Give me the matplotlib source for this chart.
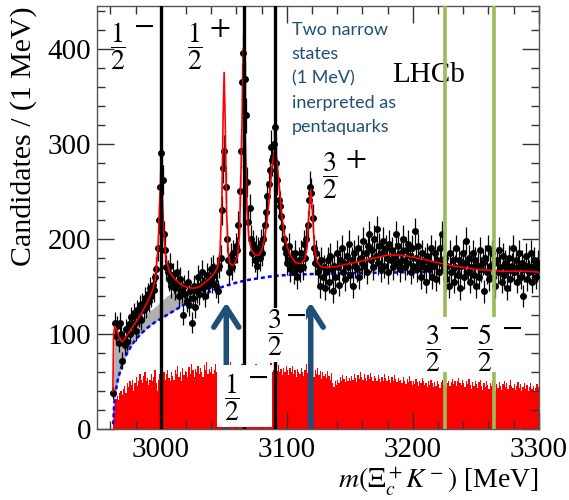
import matplotlib
matplotlib.use('Agg')
import matplotlib.pyplot as plt
from matplotlib.ticker import MultipleLocator
from matplotlib.patches import Rectangle
import numpy as np

plt.rcParams['font.family'] = ['Liberation Serif', 'DejaVu Serif']
plt.rcParams['mathtext.fontset'] = 'stix'

# binning: 1 MeV bins from threshold
m_lo, m_hi = 2962, 3300
edges = np.arange(m_lo, m_hi + 1)
centers = edges[:-1] + 0.5

# candidates per bin
counts = [
    38, 112, 98, 108, 90, 112, 100, 72,
    95, 88, 105, 92, 110, 100, 118, 108, 122, 112,
    103, 125, 118, 130, 115, 132, 125, 138, 128, 142,
    135, 148, 140, 152, 146, 160, 168, 190, 220, 255,
    290, 262, 205, 188, 170, 165, 158, 172, 150, 162,
    155, 148, 165, 152, 140, 158, 145, 120, 150, 142,
    135, 155, 130, 145, 112, 138, 150, 128, 145, 160,
    142, 150, 165, 148, 155, 140, 162, 150, 158, 168,
    155, 170, 162, 150, 168, 145, 172, 180, 230, 275,
    292, 255, 200, 178, 165, 182, 170, 185, 178, 192,
    188, 215, 250, 292, 365, 396, 368, 330, 260, 218,
    232, 200, 185, 195, 178, 190, 172, 188, 180, 196,
    185, 200, 215, 228, 245, 258, 272, 297, 283, 300,
    318, 280, 262, 241, 235, 224, 212, 200, 190, 185,
    175, 192, 168, 180, 175, 165, 185, 172, 160, 178,
    168, 185, 170, 195, 180, 200, 215, 241, 255, 248,
    222, 190, 175, 185, 165, 172, 150, 178, 160, 170,
    148, 165, 178, 155, 182, 168, 145, 172, 160, 185,
    170, 152, 178, 190, 165, 175, 158, 182, 170, 195,
    162, 178, 150, 185, 172, 168, 190, 160, 180, 175,
    198, 172, 185, 165, 192, 205, 178, 188, 170, 200,
    182, 210, 175, 192, 168, 185, 198, 172, 190, 180,
    165, 195, 178, 188, 170, 182, 205, 175, 192, 168,
    185, 178, 200, 170, 188, 175, 195, 182, 165, 190,
    172, 208, 180, 168, 192, 175, 160, 185, 170, 178,
    155, 182, 168, 175, 190, 160, 172, 185, 158, 178,
    165, 190, 175, 205, 168, 180, 158, 172, 150, 185,
    165, 178, 155, 170, 190, 162, 178, 148, 172, 185,
    160, 175, 198, 165, 180, 155, 170, 185, 162, 178,
    150, 172, 160, 188, 168, 175, 145, 180, 165, 190,
    158, 172, 185, 160, 175, 150, 178, 165, 188, 170,
    155, 182, 162, 175, 148, 168, 180, 158, 172, 190,
    165, 178, 155, 170, 185, 160, 175, 140, 168, 182,
    158, 172, 165, 185, 155, 170, 178, 160, 168, 175,
]

# red histogram (sideband), same binning
sideband = [
    20, 28, 32, 35, 30, 38, 40, 36,
    42, 45, 38, 48, 44, 50, 46, 52, 40, 48,
    55, 45, 50, 58, 52, 48, 56, 60, 50, 54,
    46, 52, 58, 50, 55, 62, 48, 40, 52, 58,
    50, 55, 60, 52, 58, 62, 54, 50, 60, 56,
    52, 62, 58, 66, 55, 60, 50, 64, 57, 61,
    60, 55, 65, 58, 68, 62, 55, 63, 60, 66,
    58, 64, 60, 55, 67, 62, 70, 58, 63, 60,
    65, 58, 62, 68, 60, 64, 57, 66, 62, 59,
    63, 60, 67, 58, 64, 70, 61, 57, 65, 62,
    58, 66, 62, 60, 68, 56, 63, 65, 59, 62,
    66, 60, 57, 64, 61, 68, 58, 63, 60, 65,
    62, 58, 66, 60, 64, 57, 63, 69, 60, 62,
    58, 65, 61, 67, 60, 63, 57, 64, 60, 66,
    62, 57, 64, 60, 66, 58, 62, 55, 63, 60,
    58, 64, 60, 56, 62, 68, 59, 63, 57, 61,
    60, 55, 62, 58, 64, 57, 61, 53, 60, 56,
    58, 54, 61, 56, 52, 59, 48, 44, 50, 46,
    52, 48, 55, 50, 57, 53, 49, 56, 51, 54,
    50, 56, 52, 58, 54, 49, 57, 53, 60, 55,
    52, 58, 54, 50, 57, 53, 59, 55, 51, 56,
    54, 50, 57, 53, 49, 55, 51, 58, 54, 50,
    56, 52, 48, 55, 51, 57, 53, 49, 54, 50,
    52, 48, 55, 51, 47, 53, 49, 56, 50, 46,
    50, 47, 53, 49, 45, 51, 48, 54, 50, 46,
    48, 44, 50, 46, 52, 48, 44, 49, 45, 51,
    47, 43, 49, 52, 46, 50, 44, 48, 51, 45,
    49, 53, 47, 51, 45, 50, 54, 48, 46, 52,
    48, 44, 50, 47, 53, 46, 42, 49, 45, 51,
    47, 43, 49, 52, 45, 41, 48, 44, 50, 46,
    42, 48, 45, 51, 44, 40, 47, 43, 49, 45,
    41, 47, 50, 44, 48, 42, 46, 52, 45, 43,
    47, 41, 45, 49, 43, 47, 40, 44, 48, 42,
    46, 40, 44, 48, 42, 45, 39, 43, 47, 44,
]

# total fit curve
fit_m = [2962, 2962.6, 2963.5, 2965, 2967, 2969, 2971, 2974, 2977, 2980,
         2984, 2988, 2991, 2994, 2996, 2998, 2999.3, 3000.3, 3001.3, 3002.5,
         3004, 3007, 3011, 3016, 3021, 3026, 3031, 3036, 3040, 3043,
         3045, 3047, 3048.5, 3049.5, 3050.3, 3051.2, 3052.2, 3053.5, 3055, 3057,
         3059, 3061, 3062.5, 3064, 3065.5, 3067, 3068.5, 3070, 3072, 3075,
         3078, 3080, 3082, 3084, 3086, 3088, 3090, 3092, 3094, 3096,
         3098, 3100, 3103, 3107, 3111, 3114, 3116, 3117.5, 3119, 3120.5,
         3122, 3124, 3127, 3130, 3140, 3150, 3160, 3170, 3180, 3190,
         3200, 3210, 3220, 3230, 3240, 3250, 3260, 3270, 3280, 3290, 3300]
fit_v = [40, 100, 108, 105, 96, 92, 94, 100, 106, 112,
         120, 130, 138, 148, 160, 195, 245, 270, 245, 205,
         180, 165, 158, 152, 149, 148, 150, 155, 160, 165,
         170, 185, 240, 330, 375, 320, 230, 185, 174, 172,
         175, 182, 205, 290, 400, 310, 230, 200, 188, 183,
         183, 188, 198, 215, 240, 272, 292, 285, 255, 225,
         205, 193, 182, 175, 174, 178, 190, 225, 252, 225,
         190, 176, 171, 170, 171, 174, 177, 180, 183, 183,
         181, 178, 175, 172, 170, 168, 167, 166, 166, 166, 165]

# combinatorial background (blue dotted)
bkg_m = [2962.3, 2963, 2964, 2966, 2968, 2970, 2973, 2976, 2980, 2985,
         2990, 2995, 3000, 3010, 3020, 3030, 3040, 3050, 3060, 3070,
         3080, 3090, 3100, 3120, 3150, 3200, 3250, 3300]
bkg_v = [5, 25, 38, 52, 62, 70, 79, 86, 94, 101,
         107, 112, 116, 124, 132, 139, 145, 150, 154, 157,
         159, 161, 162, 163, 164, 165, 165, 164]

# feed-down component (grey)
feed_m = [2962.3, 2963, 2965, 2970, 2975, 2980, 2985, 2990, 2995, 3000,
          3005, 3010, 3015, 3020, 3023]
feed_lo = [5, 25, 45, 70, 84, 94, 101, 107, 112, 116, 120, 124, 128, 132, 134]
feed_hi = [40, 95, 98, 96, 103, 110, 117, 123, 128, 134, 140, 144, 146, 140, 134]

# states
black_lines = [3000.3, 3066.0, 3090.6]
green_lines = [3225.4, 3264.3]
arrow_pos = [3052.0, 3119.0]

navy = '#1F4E79'

fig = plt.figure(figsize=(5.69, 5.0), dpi=100)
ax = fig.add_axes([0.170, 0.142, 0.777, 0.846])

ax.stairs(sideband, edges, fill=True, color='red', zorder=1)
ax.fill_between(feed_m, feed_lo, feed_hi, color='#b0b0b0', lw=0, zorder=2)
ax.plot(bkg_m, bkg_v, color='blue', lw=1.8, dashes=(1.6, 1.2), zorder=3)
ax.errorbar(centers, counts, yerr=np.sqrt(counts), fmt='o', color='black',
            ms=4, elinewidth=0.9, capsize=0, zorder=4)
ax.plot(fit_m, fit_v, color='red', lw=1.2, zorder=5)

for xv in black_lines:
    ax.axvline(xv, color='black', lw=2.4, zorder=6)
for xv in green_lines:
    ax.axvline(xv, color='#9BBB59', lw=2.6, zorder=6)
for xv in arrow_pos:
    ax.annotate('', xy=(xv, 133), xytext=(xv, 3),
                arrowprops=dict(arrowstyle='->,head_length=0.7,head_width=0.45',
                                lw=4, color=navy, mutation_scale=20,
                                shrinkA=0, shrinkB=0), zorder=6)

# white boxes behind the lower labels
for (x0, x1, y0, y1) in [(3044.4, 3088.1, 2, 67), (3080, 3115, 70, 127),
                         (3205.6, 3288.9, 60, 118)]:
    ax.add_patch(Rectangle((x0, y0), x1 - x0, y1 - y0, facecolor='white',
                           edgecolor='none', zorder=7))

def spin_label(x, y, frac, sign, dx, dy):
    ax.text(x, y, frac, fontsize=20, ha='center', va='center', zorder=8)
    ax.text(x + dx, y + dy, sign, fontsize=22, ha='center', va='center', zorder=8)

spin_label(2965.9, 403, r'$\dfrac{1}{2}$', r'$-$', 20.6, 22)
spin_label(3027.4, 403, r'$\dfrac{1}{2}$', r'$+$', 19.4, 18)
spin_label(3134.5, 267, r'$\dfrac{3}{2}$', r'$+$', 20.5, 16)
spin_label(3090.5, 101, r'$\dfrac{3}{2}$', r'$-$', 16.5, 19)
spin_label(3056.1, 34, r'$\dfrac{1}{2}$', r'$-$', 20.5, 21)
spin_label(3216.3, 85, r'$\dfrac{3}{2}$', r'$-$', 20.2, 22)
spin_label(3257.5, 85, r'$\dfrac{5}{2}$', r'$-$', 20.7, 22)

ax.text(3183.3, 365, 'LHCb', fontsize=21, ha='left', va='baseline', zorder=5)
ax.text(3104, 428, 'Two narrow\nstates\n(1 MeV)\ninerpreted as\npentaquarks',
        family='Lato', fontsize=13, color=navy, ha='left', va='top',
        linespacing=1.62, zorder=8)

ax.set_xlim(2949.2, 3300)
ax.set_ylim(0, 445)
ax.set_xticks([3000, 3100, 3200, 3300])
ax.set_yticks([0, 100, 200, 300, 400])
ax.xaxis.set_minor_locator(MultipleLocator(20))
ax.yaxis.set_minor_locator(MultipleLocator(20))
ax.tick_params(which='both', direction='in', top=True, right=True,
               labelsize=21, width=1, color='#333333')
ax.tick_params(which='major', length=12)
ax.tick_params(which='minor', length=6)
ax.tick_params(axis='x', pad=6)
ax.tick_params(axis='y', pad=4)
for sp in ax.spines.values():
    sp.set_color('#555555')
    sp.set_linewidth(1)

ax.set_ylabel('Candidates / (1 MeV)', fontsize=21.5, loc='top')
ax.yaxis.set_label_coords(-0.135, 1.0)
ax.set_xlabel(r'$m(\mathit{Ξ}_c^+K^-)$ [MeV]', fontsize=20, loc='right')
ax.xaxis.set_label_coords(1.0, -0.088)

fig.savefig('out.png', dpi=100)
